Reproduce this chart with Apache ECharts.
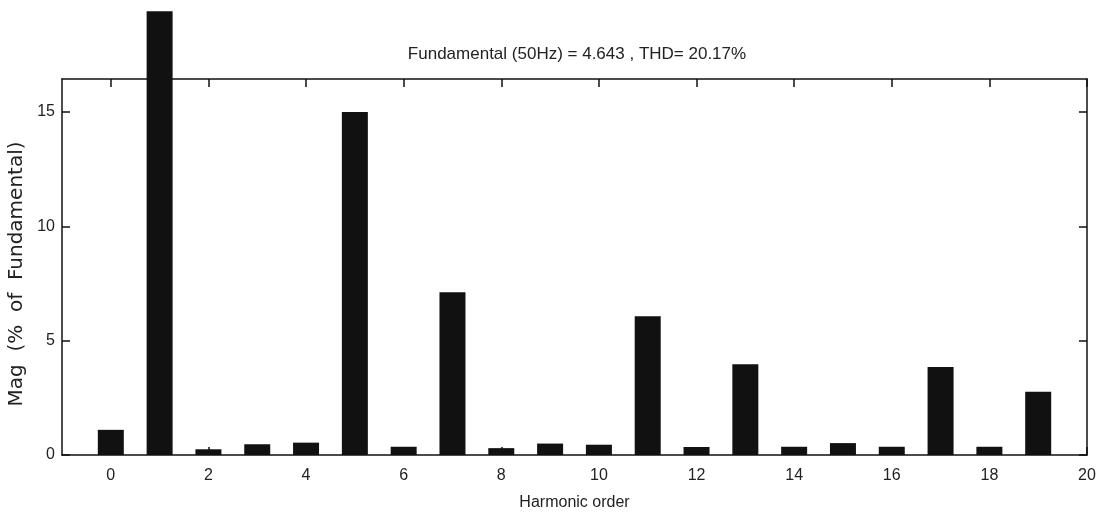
<!DOCTYPE html>
<html>
<head>
<meta charset="utf-8">
<script src="https://cdn.jsdelivr.net/npm/echarts@6/dist/echarts.min.js"></script>
<style>
  html, body { margin: 0; padding: 0; background: #fff; }
  #chart { width: 1100px; height: 516px; }
</style>
</head>
<body>
<div id="chart"></div>
<script>
// harmonic orders and magnitudes (% of fundamental)
const harmonics = [0, 1, 2, 3, 4, 5, 6, 7, 8, 9, 10, 11, 12, 13, 14, 15, 16, 17, 18, 19];
// the fundamental bar runs off the top of the picture; its visible height is used
const magnitudes = [1.1, 19.4, 0.25, 0.47, 0.54, 15.0, 0.36, 7.12, 0.3, 0.5, 0.45, 6.07, 0.35, 3.97, 0.36, 0.52, 0.36, 3.85, 0.36, 2.77];
const xTicks = [0, 2, 4, 6, 8, 10, 12, 14, 16, 18, 20];
const yTicks = [0, 5, 10, 15];

const titleText = 'Fundamental (50Hz) = 4.643 , THD= 20.17%';
const fontFamily = '"Liberation Sans", Arial, sans-serif';

const chart = echarts.init(document.getElementById('chart'));

const axisLine = { show: true, onZero: false, lineStyle: { color: '#111', width: 1.5 } };
const axisTick = { show: true, inside: true, length: 8, lineStyle: { color: '#111', width: 1.5 } };
const labelStyle = { color: '#222', fontSize: 16, fontFamily: fontFamily };

const option = {
  animation: false,
  backgroundColor: '#fff',
  title: {
    text: titleText,
    left: 572,
    top: 41,
    textAlign: 'center',
    textStyle: { color: '#222', fontSize: 17, fontWeight: 'normal', fontFamily: fontFamily }
  },
  grid: { left: 62, right: 13, top: 79, bottom: 61, containLabel: false, outerBoundsMode: 'none' },
  xAxis: [
    {
      type: 'value',
      min: -1,
      max: 20,
      interval: 1,
      position: 'bottom',
      axisLine: axisLine,
      axisTick: { ...axisTick, customValues: xTicks },
      axisLabel: { ...labelStyle, margin: 13, customValues: xTicks },
      splitLine: { show: false },
      name: 'Harmonic order',
      nameLocation: 'middle',
      nameGap: 40,
      nameTextStyle: { color: '#222', fontSize: 16, fontFamily: fontFamily }
    },
    {
      type: 'value',
      min: -1,
      max: 20,
      position: 'top',
      axisLine: axisLine,
      axisTick: { ...axisTick, customValues: xTicks },
      axisLabel: { show: false },
      splitLine: { show: false }
    }
  ],
  yAxis: [
    {
      type: 'value',
      min: 0,
      max: 16.44,
      position: 'left',
      axisLine: axisLine,
      axisTick: { ...axisTick, customValues: yTicks },
      axisLabel: { ...labelStyle, margin: 7, customValues: yTicks },
      splitLine: { show: false },
      name: 'Mag  (%  of  Fundamental)',
      nameLocation: 'middle',
      nameGap: 35,
      nameTextStyle: { color: '#222', fontSize: 20, fontFamily: '"DejaVu Sans", sans-serif', padding: [0, 14, 0, 0] }
    },
    {
      type: 'value',
      min: 0,
      max: 16.44,
      position: 'right',
      axisLine: axisLine,
      axisTick: { ...axisTick, customValues: yTicks },
      axisLabel: { show: false },
      splitLine: { show: false }
    }
  ],
  series: [
    {
      type: 'bar',
      xAxisIndex: 0,
      yAxisIndex: 0,
      barWidth: 26,
      clip: false,
      itemStyle: { color: '#111' },
      data: harmonics.map((h, i) => [h, magnitudes[i]])
    }
  ]
};

chart.setOption(option);
</script>
</body>
</html>
